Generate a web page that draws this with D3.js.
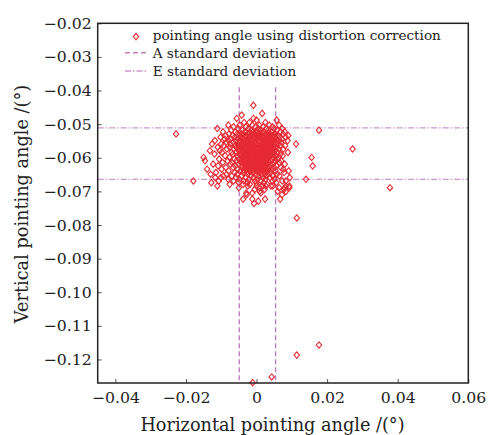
<!DOCTYPE html>
<html><head><meta charset="utf-8">
<script src="https://cdn.jsdelivr.net/npm/d3@7"></script>
<style>
html,body{margin:0;padding:0;background:#fff;}
svg text{font-family:"DejaVu Serif",serif;fill:#222;}
</style></head>
<body><svg id="c" width="490" height="435"></svg>
<script>
// Values in thousandths of a degree, grouped by vertical level (rows)
const rowY = [-44.4,-46.8,-47.3,-48.3,-48.8,-49.5,-50.3,-50.8,-51.3,-51.8,-52.3,-52.9,-53.4,-53.9,-54.4,-54.9,-55.4,-55.9,-56.4,-56.9,-57.4,-57.9,-58.4,-58.9,-59.4,-59.9,-60.4,-60.9,-61.4,-61.9,-62.4,-62.9,-63.4,-63.9,-64.4,-64.9,-65.4,-65.9,-66.4,-66.9,-67.4,-67.9,-68.4,-68.9,-69.4,-70.0,-70.5,-71.0,-72.3,-72.9,-73.6,-77.9,-115.7,-118.7,-125.2,-126.9];
const rowX = [
 [-0.9],
 [1.6],
 [-4.2],
 [-5.6,-0.9],
 [0.0,5.7],
 [-3.5,-2.0,2.5],
 [-8.0,-4.8,-1.2,0.8,3.6,6.4],
 [-6.5,-3.0,-0.3,1.9,4.5],
 [-11.1,-5.2,-2.3,0.5,2.8,5.0,7.3],
 [17.7,-7.2,-4.0,-1.5,1.2,3.3,5.8],
 [-9.5,-6.0,-3.3,-1.0,0.3,2.0,4.2,6.8,8.0],
 [-22.8,-7.8,-5.5,-4.2,-2.5,-0.6,1.0,2.6,3.9,5.3,7.5],
 [-8.8,-6.8,-4.9,-3.0,-1.7,0.1,1.5,3.2,4.6,6.0,9.0],
 [-10.2,-6.2,-4.4,-2.2,-0.8,0.7,2.2,3.8,5.2,6.5,8.3],
 [-9.0,-7.3,-5.2,-3.6,-1.4,0.2,1.3,2.9,4.3,5.7,7.2],
 [-11.8,-7.9,-5.9,-4.6,-2.8,-0.9,0.6,1.9,3.5,4.9,6.2,8.8],
 [-8.6,-6.6,-3.9,-2.0,-0.3,1.1,2.4,3.9,5.5,7.0],
 [-12.6,-10.0,-7.4,-5.3,-3.2,-1.2,0.4,1.7,3.0,4.4,6.0,11.2],
 [-9.3,-6.1,-4.3,-2.5,-0.6,0.9,2.2,3.6,5.1,6.7,8.1],
 [-11.0,-7.6,-5.6,-3.4,-1.6,0.0,1.4,2.8,4.2,5.6],
 [27.2,-8.4,-6.4,-4.7,-2.9,-1.0,0.6,2.0,3.3,4.7,6.3,7.6],
 [-13.2,-10.4,-5.0,-3.8,-2.1,-0.4,1.1,2.5,3.9,5.3],
 [-9.8,-7.1,-5.8,-3.1,-1.3,0.3,1.8,3.0,4.5,6.0,8.9],
 [-11.9,-6.7,-4.5,-2.6,-0.8,0.8,2.3,3.7,5.0,6.8],
 [-8.9,-5.4,-3.5,-1.8,0.0,1.5,2.7,4.1,5.5,7.4],
 [-15.0,-7.7,-4.1,-2.4,-0.5,1.0,2.1,3.4,4.8,6.3,15.6],
 [-10.6,-6.3,-4.9,-3.0,-1.1,0.5,1.9,3.2,4.4,5.9],
 [-14.6,-8.2,-5.7,-3.7,-1.7,0.1,1.3,2.6,4.0,5.2,7.0],
 [-9.6,-6.9,-4.4,-2.3,-0.7,0.9,2.4,3.6,4.9,6.5],
 [-12.3,-7.4,-5.1,-3.3,-1.5,0.4,1.7,3.0,4.6,8.0],
 [15.9,-10.9,-6.0,-4.0,-2.0,-0.2,1.2,2.8,4.1,5.6],
 [-8.7,-6.6,-3.5,-1.2,0.6,2.0,3.5,5.0,6.9],
 [-14.0,-9.9,-5.3,-2.7,-0.6,1.0,2.6,4.2,7.6],
 [-7.9,-4.6,-1.9,0.2,1.6,3.1,5.4,9.1],
 [-11.5,-6.2,-3.8,-1.0,0.8,2.3,4.0,7.8],
 [-13.0,-8.5,-5.5,-2.4,-0.1,1.5,3.3,5.8],
 [-9.4,-7.0,-4.2,-1.6,0.5,2.7,4.6,6.5],
 [-11.7,-10.1,-5.8,-3.1,-0.9,1.8,3.8,9.4],
 [-8.0,-4.8,-2.2,0.3,2.5,5.1,14.0],
 [-17.9,-10.7,-6.5,-3.6,-0.5,1.3,4.5,8.3,7.3],
 [-12.8,-5.0,-2.6,0.0,2.0,5.6],
 [-7.6,-3.8,-1.9,3.0],
 [-11.1,-2.5,0.0,1.7,2.6,4.1,4.6,8.3,9.3],
 [-5.0,0.9,6.4,8.0,9.3,37.8],
 [-0.5,2.3,7.8],
 [0.9,6.0,8.3],
 [-2.9,-1.2,1.2],
 [-2.8,7.2],
 [-3.8,-1.2,2.4,6.7],
 [0.5],
 [-0.7],
 [11.4],
 [17.7],
 [11.4],
 [4.3],
 [-1.1]
];
// additional points in the dense core of the cloud
const coreY = [-52.6,-53.1,-53.6,-54.1,-54.6,-55.1,-55.6,-56.1,-56.6,-57.1,-57.6,-58.1,-58.6,-59.1,-59.6,-60.1,-60.6,-61.1,-61.6,-62.1,-62.6,-63.1,-63.6,-64.1];
const coreX = [
 [-2.0,-0.2,1.6,3.4],
 [-3.8,-1.1,0.9,2.7,4.9],
 [-2.6,-0.4,1.8,3.5],
 [-4.0,-1.8,0.4,2.6,4.8],
 [-2.2,0.0,2.2,3.9],
 [-3.4,-1.3,1.0,3.0,5.2],
 [-4.8,-2.6,-0.6,1.6,3.4,4.6],
 [-3.8,-1.8,0.2,2.6,4.0],
 [-5.0,-3.0,-1.0,1.8,3.0,4.8],
 [-4.0,-2.0,0.5,2.2,3.6],
 [-3.2,-1.5,0.1,1.6,3.0,4.4],
 [-4.4,-2.6,-0.9,0.7,2.0,3.4],
 [-3.8,-2.0,-0.2,1.2,2.6,4.0],
 [-4.8,-3.0,-1.2,0.4,1.9,3.2],
 [-3.9,-2.0,0.6,2.2,3.8],
 [-3.4,-1.6,0.2,1.6,2.8],
 [-4.1,-2.2,-0.2,1.4,2.9],
 [-3.0,-1.0,0.6,2.0,3.4],
 [-3.8,-1.8,-0.1,1.5,3.1],
 [-2.6,-0.6,1.0,2.4],
 [-3.2,-1.4,0.2,1.8],
 [-2.2,-0.2,1.4,3.0],
 [-3.6,-1.2,0.6],
 [-2.6,-0.6,1.1,2.8]
];
const stdA = [-0.0049, 0.0054];      // horizontal (A) standard deviation bounds
const stdE = [-0.0511, -0.0664];     // vertical (E) standard deviation bounds
const xTicks = [-0.04,-0.02,0,0.02,0.04,0.06];
const yTicks = [-0.02,-0.03,-0.04,-0.05,-0.06,-0.07,-0.08,-0.09,-0.10,-0.11,-0.12];
const legendLabels = ["pointing angle using distortion correction","A standard deviation","E standard deviation"];
const xTitle = "Horizontal pointing angle /(°)";
const yTitle = "Vertical pointing angle /(°)";

const points = [];
rowY.forEach((yv,i)=>rowX[i].forEach(xv=>points.push([xv/1000, yv/1000])));
coreY.forEach((yv,i)=>coreX[i].forEach(xv=>points.push([xv/1000, yv/1000])));

const L=97.7, R=468.3, T=23.3, B=383;
const x = d3.scaleLinear().domain([-0.045,0.06]).range([L,R]);
const y = d3.scaleLinear().domain([-0.127,-0.02]).range([B,T]);
const svg = d3.select("#c");

const fmt = v => v===0 ? "0" : (v<0?"\u2212":"") + Math.abs(v).toFixed(2);

// std lines
const purple="#c27ec4", purple2="#cf98cf";
svg.append("g").selectAll("line").data(stdA).join("line")
  .attr("x1",d=>x(d)).attr("x2",d=>x(d)).attr("y1",y(-0.039)).attr("y2",B)
  .attr("stroke",purple).attr("stroke-width",1.4).attr("stroke-dasharray","5,3");
svg.append("g").selectAll("line").data(stdE).join("line")
  .attr("x1",L).attr("x2",R).attr("y1",d=>y(d)).attr("y2",d=>y(d))
  .attr("stroke",purple2).attr("stroke-width",1.3).attr("stroke-dasharray","6,2,1.5,2");

// points
const red="#e62a33";
const diamond = "M0,-3.2L2.7,0L0,3.2L-2.7,0Z";
svg.append("g").selectAll("path").data(points).join("path")
  .attr("d",diamond).attr("transform",d=>`translate(${x(d[0])},${y(d[1])})`)
  .attr("fill","none").attr("stroke",red).attr("stroke-width",1.1);

// axes
const gx = svg.append("g").attr("transform",`translate(0,${B})`)
  .call(d3.axisBottom(x).tickValues(xTicks).tickFormat(fmt).tickSizeInner(-4).tickSizeOuter(0).tickPadding(8.5));
const gy = svg.append("g").attr("transform",`translate(${L},0)`)
  .call(d3.axisLeft(y).tickValues(yTicks).tickFormat(fmt).tickSizeInner(-4).tickSizeOuter(0).tickPadding(6));
[gx,gy].forEach(g=>{
  g.select(".domain").remove();
  g.selectAll(".tick line").attr("stroke","#555").attr("stroke-width",1);
  g.selectAll(".tick text").attr("font-family","DejaVu Serif").attr("font-size",15.7).attr("fill","#222");
});

// frame
svg.append("rect").attr("x",L).attr("y",T).attr("width",R-L).attr("height",B-T)
  .attr("fill","none").attr("stroke","#222").attr("stroke-width",1.5);

// legend
const lg = svg.append("g");
lg.append("path").attr("d",diamond).attr("transform","translate(136,36.6)")
  .attr("fill","none").attr("stroke",red).attr("stroke-width",1.1);
lg.append("line").attr("x1",125).attr("x2",146).attr("y1",52.8).attr("y2",52.8)
  .attr("stroke",purple).attr("stroke-width",1.4).attr("stroke-dasharray","5,3");
lg.append("line").attr("x1",125).attr("x2",146).attr("y1",71).attr("y2",71)
  .attr("stroke",purple2).attr("stroke-width",1.3).attr("stroke-dasharray","6,2,1.5,2");
lg.selectAll("text").data(legendLabels).join("text")
  .attr("x",152.7).attr("y",(d,i)=>39.8+i*18).attr("font-size",13.6).text(d=>d);

// titles
svg.append("text").attr("x",272.5).attr("y",430.5).attr("text-anchor","middle")
  .attr("font-size",17.7).text(xTitle);
svg.append("text").attr("transform","translate(28,204) rotate(-90)").attr("text-anchor","middle")
  .attr("font-size",17.7).text(yTitle);
</script></body></html>
